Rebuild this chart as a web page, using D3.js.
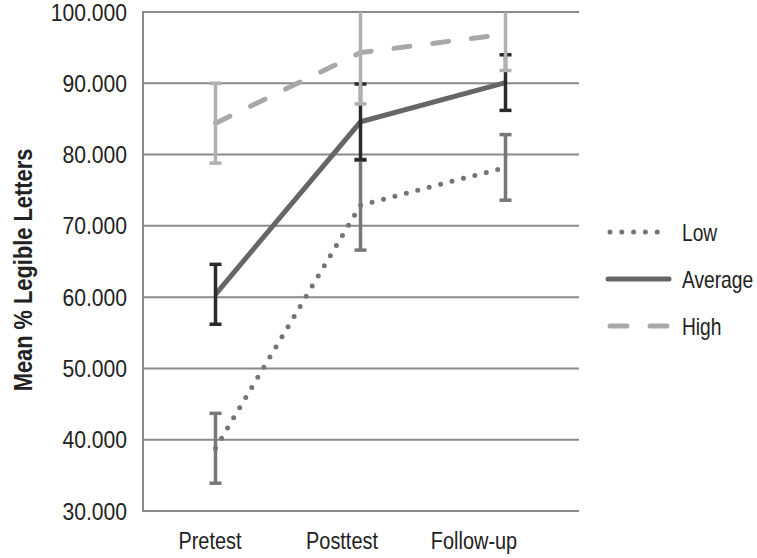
<!DOCTYPE html>
<html>
<head>
<meta charset="utf-8">
<script src="https://cdn.jsdelivr.net/npm/d3@7"></script>
<style>
  body { margin: 0; background: #fff; }
  text { font-family: "Liberation Sans", Arial, sans-serif; fill: #222; }
</style>
</head>
<body>
<div class="chart"></div>
<script>
// values
var categories = ["Pretest", "Posttest", "Follow-up"];
var yTicks = [30, 40, 50, 60, 70, 80, 90, 100];
var lowMean = [38.8, 72.9, 78.2];
var lowErr = [4.9, 6.3, 4.6];
var avgMean = [60.4, 84.6, 90.1];
var avgErr = [4.2, 5.3, 3.9];
var highMean = [84.4, 94.3, 96.9];
var highErr = [5.6, 7.2, 5.1];
var seriesNames = ["Low", "Average", "High"];

var svgWidth = 757;
var svgHeight = 558;

var svg = d3.select(".chart")
  .append("svg")
  .attr("width", svgWidth)
  .attr("height", svgHeight);

var xScale = d3.scaleBand().domain(categories).range([143, 578]);
var labelScale = d3.scalePoint().domain(categories).range([210, 474]);
var yScale = d3.scaleLinear().domain([30, 100]).range([511, 12]);

// condensed look: squeeze the text horizontally
function narrow(sel, x, y, sx) {
  return sel.attr("transform", d => "translate(" + x(d) + "," + y(d) + ") scale(" + sx + ",1)");
}

// gridlines
svg.append("g").selectAll("line")
  .data(yTicks)
  .enter().append("line")
  .attr("x1", 143).attr("x2", 579)
  .attr("y1", d => yScale(d)).attr("y2", d => yScale(d))
  .attr("stroke", "#8a8a8a").attr("stroke-width", 2);

// y axis line
svg.append("line")
  .attr("x1", 143).attr("x2", 143)
  .attr("y1", yScale(100) - 1).attr("y2", yScale(30) + 1)
  .attr("stroke", "#8a8a8a").attr("stroke-width", 2);

// tick labels
svg.append("g").selectAll("text")
  .data(yTicks)
  .enter().append("text")
  .call(narrow, d => 127, d => yScale(d), 0.88)
  .attr("dy", "0.36em")
  .attr("text-anchor", "end")
  .style("font-size", "24px")
  .text(d => d3.format(".3f")(d));

svg.append("g").selectAll("text")
  .data(categories)
  .enter().append("text")
  .call(narrow, d => labelScale(d), d => 549, 0.83)
  .attr("text-anchor", "middle")
  .style("font-size", "24px")
  .text(d => d);

svg.append("text")
  .attr("transform", "translate(32,270) rotate(-90) scale(0.84,1)")
  .attr("text-anchor", "middle")
  .style("font-size", "26px")
  .style("font-weight", "bold")
  .text("Mean % Legible Letters");

svg.append("clipPath").attr("id", "plotclip")
  .append("rect")
  .attr("x", 130).attr("y", yScale(100)).attr("width", 470).attr("height", yScale(30) - yScale(100) + 10);

var series = [
  { name: "Low", mean: lowMean, err: lowErr, line: "#747474", bar: "#777777", dash: "0 11.8", width: 5 },
  { name: "Average", mean: avgMean, err: avgErr, line: "#666666", bar: "#2b2b2b", dash: null, width: 5 },
  { name: "High", mean: highMean, err: highErr, line: "#a8a8a8", bar: "#b0b0b0", dash: "16 23", width: 5 }
];

var plot = svg.append("g").attr("clip-path", "url(#plotclip)");
var lineGen = d3.line()
  .x((d, i) => xScale(categories[i]) + xScale.bandwidth() / 2)
  .y(d => yScale(d));

series.forEach(function(s) {
  plot.append("path")
    .datum(s.mean)
    .attr("d", lineGen)
    .attr("fill", "none")
    .attr("stroke", s.line)
    .attr("stroke-width", s.width)
    .attr("stroke-linecap", s.dash ? "round" : "butt")
    .attr("stroke-dasharray", s.dash);

  var g = plot.append("g");
  s.mean.forEach(function(m, i) {
    var cx = xScale(categories[i]) + xScale.bandwidth() / 2;
    var top = yScale(m + s.err[i]);
    var bot = yScale(m - s.err[i]);
    g.append("line").attr("x1", cx).attr("x2", cx).attr("y1", top).attr("y2", bot)
      .attr("stroke", s.bar).attr("stroke-width", 3.5);
    [top, bot].forEach(function(y) {
      g.append("line").attr("x1", cx - 6).attr("x2", cx + 6).attr("y1", y).attr("y2", y)
        .attr("stroke", s.bar).attr("stroke-width", 3.5);
    });
  });
});

// legend
var legend = svg.append("g");
series.forEach(function(s, i) {
  var ly = 232 + i * 47;
  legend.append("line")
    .attr("x1", s.dash ? 610 : 608).attr("x2", s.dash ? 667 : 669)
    .attr("y1", ly).attr("y2", ly)
    .attr("stroke", s.line)
    .attr("stroke-width", s.width)
    .attr("stroke-linecap", "round")
    .attr("stroke-dasharray", s.name === "High" ? "17 23" : s.dash);
  legend.append("text")
    .attr("transform", "translate(682," + ly + ") scale(0.8,1)")
    .attr("dy", "0.36em")
    .style("font-size", "24px")
    .text(s.name);
});
</script>
</body>
</html>
